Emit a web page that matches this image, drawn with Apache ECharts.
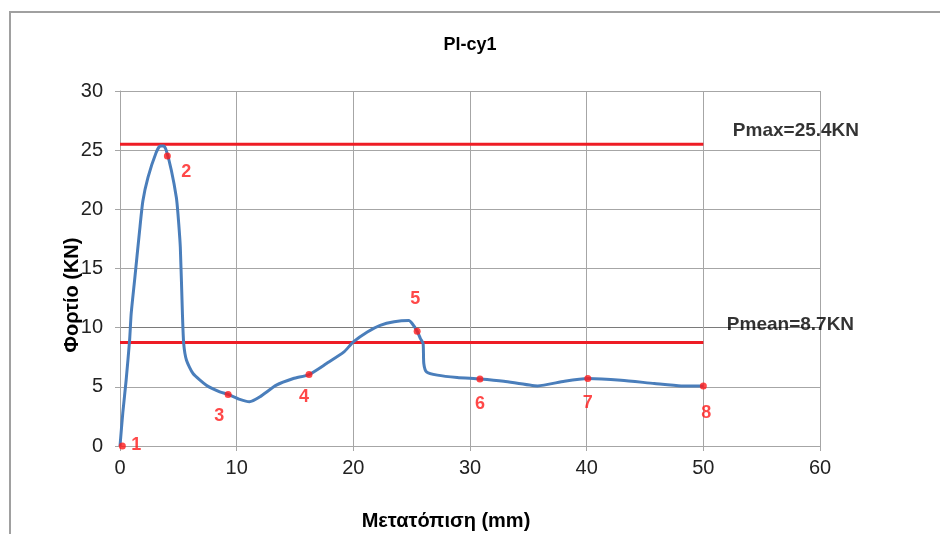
<!DOCTYPE html>
<html>
<head>
<meta charset="utf-8">
<script src="https://cdn.jsdelivr.net/npm/echarts@6/dist/echarts.min.js"></script>
<style>html,body{margin:0;padding:0;background:#fff;}#c{width:940px;height:534px;}</style>
</head>
<body>
<div id="c"></div>
<script>
// ---- data ----
const curveX = [0,0.24,0.53,0.82,0.96,1.25,1.68,1.96,2.4,3.1,3.45,3.75,3.97,4.4,4.83,4.97,5.17,5.35,5.46,5.7,6.26,7.4,8.55,9.27,10.27,11.1,12.0,13.4,14.86,16.2,17.7,19.2,20.0,21.2,22.3,23.5,24.75,25.04,25.47,25.75,25.98,26.04,26.27,27.2,28.9,30.85,32.9,35.8,38.1,40.1,42.95,45.8,48.1,50.0];
const curveY = [0,2.8,5.6,8.9,11.2,14.0,18.2,20.7,22.7,24.8,25.35,25.35,24.96,23.3,21.0,19.6,16.8,11.2,8.66,7.25,6.13,5.14,4.58,4.36,3.94,3.74,4.16,5.14,5.7,6.04,6.97,7.95,8.8,9.64,10.2,10.5,10.6,10.35,9.7,9.08,8.66,6.97,6.27,5.99,5.79,5.67,5.48,5.08,5.48,5.7,5.56,5.28,5.08,5.08];
const pointNames = ['1','2','3','4','5','6','7','8'];
const pointX = [0.2,4.06,9.27,16.2,25.47,30.85,40.1,50.0];
const pointY = [0,24.5,4.36,6.04,9.7,5.67,5.7,5.08];
const refLineX = [0,50];
const pmaxValue = 25.5;
const pmeanValue = 8.74;
const pmaxText = 'Pmax=25.4KN';
const pmeanText = 'Pmean=8.7KN';
const xTicks = [0,10,20,30,40,50,60];
const yTicks = [0,5,10,15,20,25,30];
const titleText = 'Pl-cy1';
const xName = 'Μετατόπιση (mm)';
const yName = 'Φορτίο (KN)';

// ---- styles ----
const labelOffsets = [[14,-1],[19,16],[-9,22],[-5,23],[-2,-32],[0,25],[0,24],[3,27]];
const font = '"Liberation Sans", Arial, sans-serif';
const gridColor = '#a6a6a6';

const chart = echarts.init(document.getElementById('c'), null, {renderer:'canvas'});
const curve = curveX.map((x,i)=>[x,curveY[i]]);
const pts = pointX.map((x,i)=>({
  value:[x,pointY[i]],
  label:{show:true, formatter: pointNames[i], position:'inside', offset: labelOffsets[i],
    color:'#ff1a1a', fontWeight:'bold', fontSize:18, fontFamily:font}
}));
const refLine = v => refLineX.map(x=>[x,v]);
const refEnd = refLineX[refLineX.length-1];
const refLabel = (text, off) => ({formatter:text, offset:off, color:'#000', fontWeight:'bold', fontSize:19, fontFamily:font});

chart.setOption({
  animation:false,
  backgroundColor:'#fff',
  title:{text:titleText, left:'center', top:31, textStyle:{fontFamily:font, fontWeight:'bold', fontSize:18, color:'#000'}},
  grid:{left:120, right:120, top:91, bottom:88, containLabel:false},
  xAxis:{type:'value', min:xTicks[0], max:xTicks[xTicks.length-1], interval:10,
    axisLine:{show:true, onZero:false, lineStyle:{color:gridColor, width:1}},
    axisTick:{show:true, length:5, lineStyle:{color:gridColor}},
    axisLabel:{fontFamily:font, fontSize:20, color:'#222', margin:12},
    splitLine:{show:true, lineStyle:{color:gridColor, width:1}}},
  yAxis:{type:'value', min:yTicks[0], max:yTicks[yTicks.length-1], interval:5,
    axisLine:{show:true, lineStyle:{color:gridColor, width:1}},
    axisTick:{show:true, length:5, lineStyle:{color:gridColor}},
    axisLabel:{fontFamily:font, fontSize:20, color:'#222', margin:17},
    splitLine:{show:true, lineStyle:{color:[gridColor,gridColor,'#7a7a7a',gridColor,gridColor,gridColor,gridColor], width:1}}},
  graphic:[
    {type:'rect', shape:{x:10,y:12,width:960,height:560}, style:{fill:'none', stroke:'#a0a0a0', lineWidth:2}, z:-10},
    {type:'text', x:72, y:295, rotation:Math.PI/2, style:{text:yName, align:'center', verticalAlign:'middle', font:'bold 20px "Liberation Sans", Arial, sans-serif', fill:'#000'}},
    {type:'text', x:446, y:521, style:{text:xName, align:'center', verticalAlign:'middle', font:'bold 20px "Liberation Sans", Arial, sans-serif', fill:'#000'}}
  ],
  series:[
    {type:'line', data:refLine(pmaxValue), symbol:'none', lineStyle:{color:'#ee1c25', width:3}, z:3},
    {type:'line', data:refLine(pmeanValue), symbol:'none', lineStyle:{color:'#ee1c25', width:3}, z:3},
    {type:'line', data:curve, symbol:'none', smooth:0.2, lineStyle:{color:'#4a7ebb', width:3}, z:4},
    {type:'scatter', data:pts, symbol:'circle', symbolSize:7, itemStyle:{color:'#ff1a1a'}, z:5},
    {type:'scatter', symbolSize:1, z:5, silent:true, itemStyle:{color:'rgba(0,0,0,0)'},
      label:{show:true, position:'right', distance:5},
      data:[
        {value:[refEnd,pmaxValue], label:refLabel(pmaxText,[24,-13])},
        {value:[refEnd,pmeanValue], label:refLabel(pmeanText,[18,-18])}
      ]}
  ]
});
</script>
</body>
</html>
